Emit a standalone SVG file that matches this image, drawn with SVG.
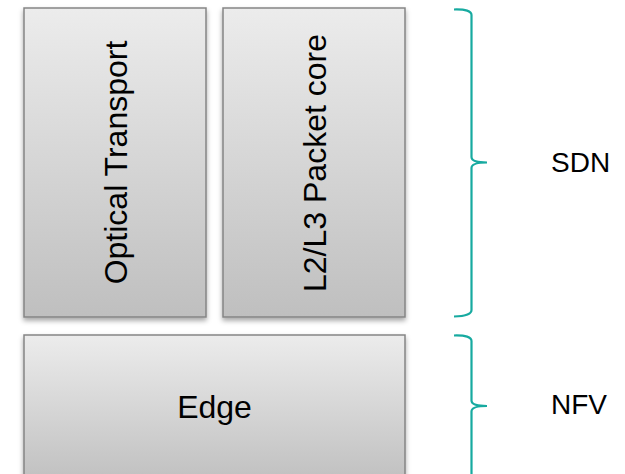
<svg xmlns="http://www.w3.org/2000/svg" width="625" height="474" viewBox="0 0 625 474">
<defs>
<linearGradient id="g" x1="0" y1="0" x2="0" y2="1">
<stop offset="0" stop-color="#ececec"/>
<stop offset="1" stop-color="#bfbfbf"/>
</linearGradient>
<linearGradient id="g2" x1="0" y1="0" x2="0" y2="1">
<stop offset="0" stop-color="#ececec"/>
<stop offset="1" stop-color="#c2c2c2"/>
</linearGradient>
<filter id="sh" x="-10%" y="-10%" width="120%" height="120%">
<feDropShadow dx="0" dy="3" stdDeviation="2.5" flood-color="#000" flood-opacity="0.35"/>
</filter>
</defs>
<style>
.box{fill:url(#g);stroke:#858585;stroke-width:1.5;filter:url(#sh)}
.lbl{font-family:"Liberation Sans",Arial,sans-serif;font-size:32px;fill:#000}
.side{font-family:"Liberation Sans",Arial,sans-serif;font-size:28px;fill:#000}
.br{fill:none;stroke:#17aaa0;stroke-width:2.2}
</style>
<rect width="625" height="474" fill="#fff"/>
<g id="optical">
<rect class="box" x="24" y="8" width="182" height="309"/>
<text class="lbl" text-anchor="middle" transform="translate(126.5,162.5) rotate(-90)">Optical Transport</text>
</g>
<g id="packet">
<rect class="box" x="223" y="8" width="182" height="309"/>
<text class="lbl" text-anchor="middle" transform="translate(325.5,163) rotate(-90)">L2/L3 Packet core</text>
</g>
<g id="edge">
<rect class="box" x="24" y="335" width="381" height="150" fill="url(#g2)"/>
<text class="lbl" text-anchor="middle" x="214.5" y="418">Edge</text>
</g>
<g id="connectors">
<path class="br" d="M454,9.5 Q471.5,9 471.5,15 L471.5,157 Q471.5,162.5 487,162.5 Q471.5,162.5 471.5,168 L471.5,310 Q471.5,316 454,316.5"/>
<path class="br" d="M454,335.5 Q471.5,335 471.5,341 L471.5,400.5 Q471.5,406 487,406 Q471.5,406 471.5,411.5 L471.5,480"/>
</g>
<g id="sdn"><text class="side" x="551" y="172">SDN</text></g>
<g id="nfv"><text class="side" x="551" y="413.5">NFV</text></g>
</svg>
